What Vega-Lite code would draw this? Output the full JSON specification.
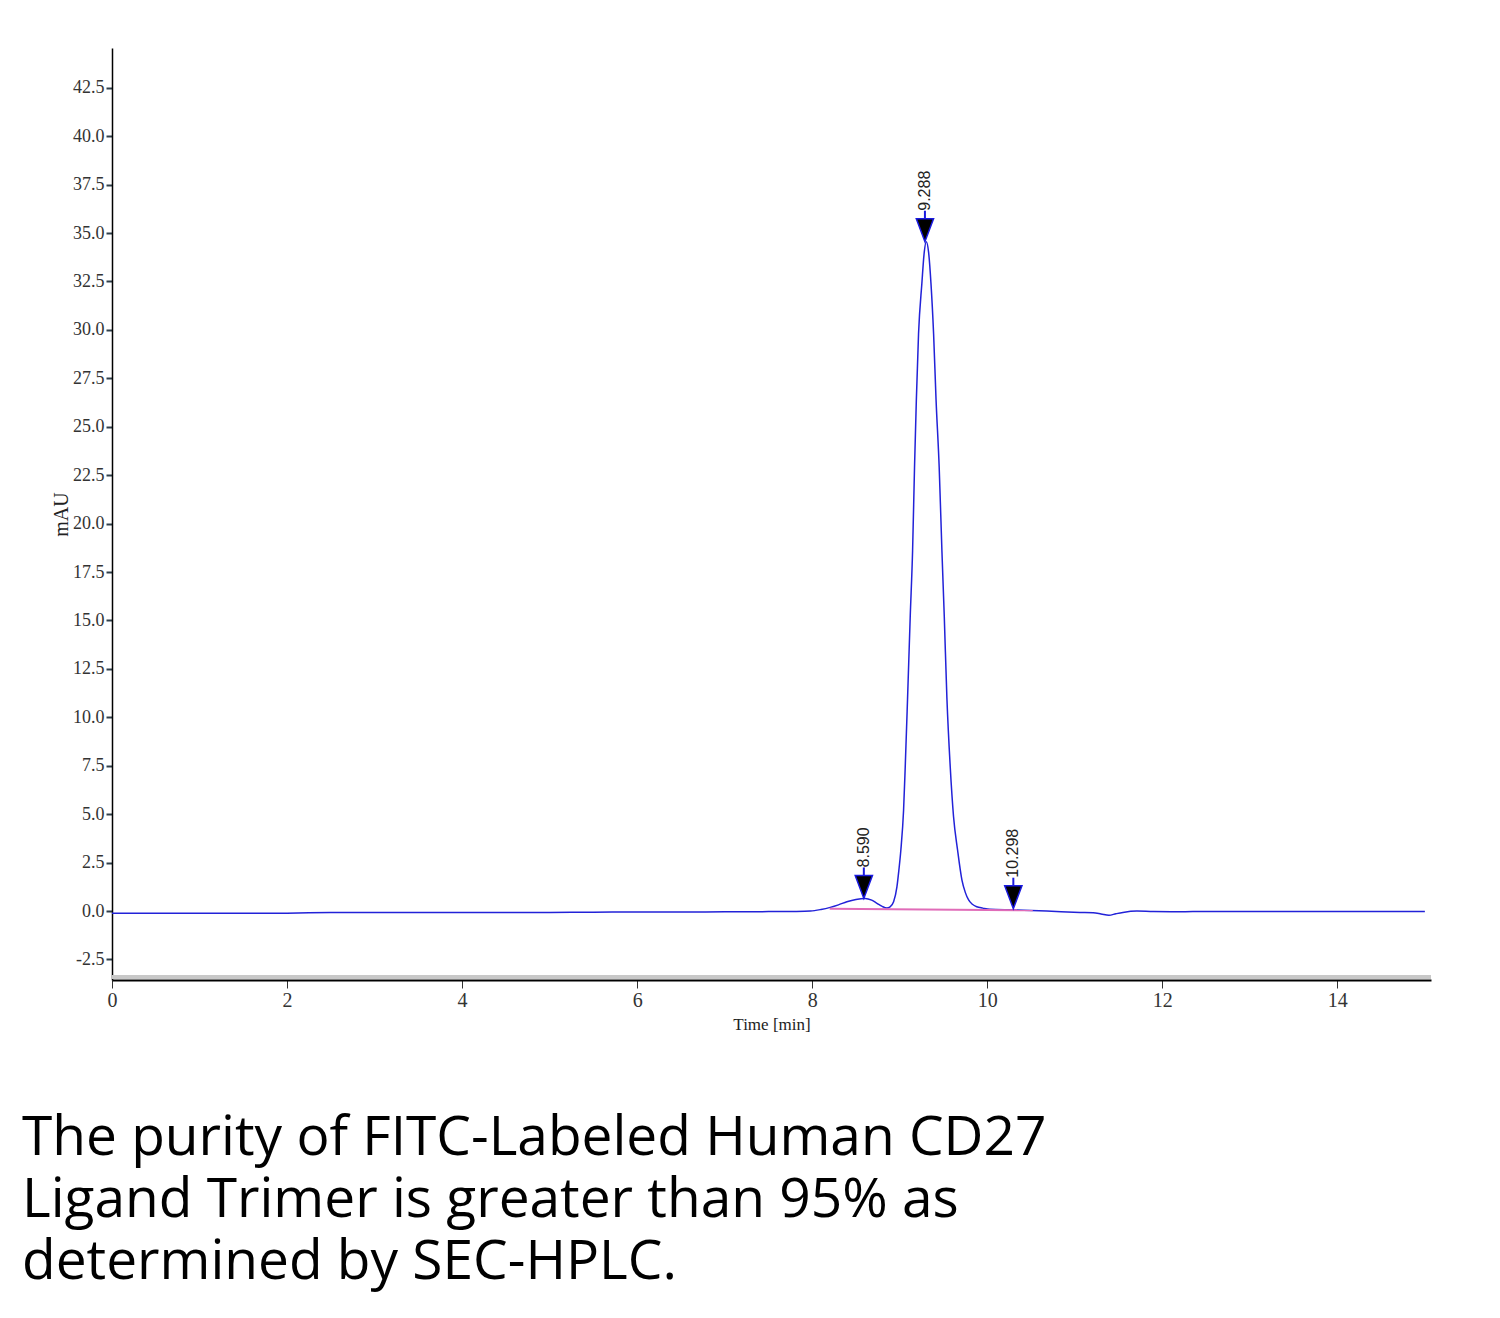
{
  "$schema": "https://vega.github.io/schema/vega-lite/v6.json",
  "width": 1319,
  "height": 932,
  "autosize": {"type": "none"},
  "padding": {"left": 112, "top": 48, "right": 69, "bottom": 338},
  "background": "white",
  "config": {"view": {"stroke": null}},
  "title": {
    "text": ["The purity of FITC-Labeled Human CD27", "Ligand Trimer is greater than 95% as", "determined by SEC-HPLC."],
    "orient": "bottom",
    "anchor": "start",
    "frame": "group",
    "font": "Open Sans",
    "fontSize": 55,
    "fontWeight": "normal",
    "color": "#000000",
    "lineHeight": 62,
    "offset": 80,
    "dx": -90
  },
  "data": {
    "values": [
      {"t": 0.0, "v": -0.12, "trace": "signal"},
      {"t": 0.5, "v": -0.12, "trace": "signal"},
      {"t": 1.0, "v": -0.11, "trace": "signal"},
      {"t": 1.5, "v": -0.12, "trace": "signal"},
      {"t": 2.0, "v": -0.11, "trace": "signal"},
      {"t": 2.5, "v": -0.08, "trace": "signal"},
      {"t": 3.0, "v": -0.07, "trace": "signal"},
      {"t": 3.5, "v": -0.08, "trace": "signal"},
      {"t": 4.0, "v": -0.07, "trace": "signal"},
      {"t": 4.5, "v": -0.08, "trace": "signal"},
      {"t": 5.0, "v": -0.07, "trace": "signal"},
      {"t": 5.5, "v": -0.06, "trace": "signal"},
      {"t": 6.0, "v": -0.05, "trace": "signal"},
      {"t": 6.5, "v": -0.05, "trace": "signal"},
      {"t": 7.0, "v": -0.04, "trace": "signal"},
      {"t": 7.5, "v": -0.03, "trace": "signal"},
      {"t": 7.8, "v": -0.02, "trace": "signal"},
      {"t": 7.98, "v": 0.0, "trace": "signal"},
      {"t": 8.1, "v": 0.08, "trace": "signal"},
      {"t": 8.206, "v": 0.19, "trace": "signal"},
      {"t": 8.3, "v": 0.32, "trace": "signal"},
      {"t": 8.396, "v": 0.48, "trace": "signal"},
      {"t": 8.5, "v": 0.6, "trace": "signal"},
      {"t": 8.606, "v": 0.65, "trace": "signal"},
      {"t": 8.68, "v": 0.56, "trace": "signal"},
      {"t": 8.74, "v": 0.4, "trace": "signal"},
      {"t": 8.8, "v": 0.24, "trace": "signal"},
      {"t": 8.853, "v": 0.16, "trace": "signal"},
      {"t": 8.89, "v": 0.22, "trace": "signal"},
      {"t": 8.93, "v": 0.48, "trace": "signal"},
      {"t": 8.968, "v": 1.25, "trace": "signal"},
      {"t": 8.99, "v": 2.1, "trace": "signal"},
      {"t": 9.013, "v": 3.15, "trace": "signal"},
      {"t": 9.044, "v": 5.2, "trace": "signal"},
      {"t": 9.063, "v": 7.45, "trace": "signal"},
      {"t": 9.089, "v": 10.9, "trace": "signal"},
      {"t": 9.12, "v": 15.2, "trace": "signal"},
      {"t": 9.147, "v": 18.6, "trace": "signal"},
      {"t": 9.169, "v": 22.9, "trace": "signal"},
      {"t": 9.19, "v": 26.4, "trace": "signal"},
      {"t": 9.215, "v": 29.8, "trace": "signal"},
      {"t": 9.253, "v": 32.4, "trace": "signal"},
      {"t": 9.28, "v": 34.0, "trace": "signal"},
      {"t": 9.303, "v": 34.55, "trace": "signal"},
      {"t": 9.33, "v": 34.0, "trace": "signal"},
      {"t": 9.357, "v": 32.4, "trace": "signal"},
      {"t": 9.387, "v": 29.8, "trace": "signal"},
      {"t": 9.415, "v": 26.4, "trace": "signal"},
      {"t": 9.451, "v": 22.9, "trace": "signal"},
      {"t": 9.482, "v": 18.6, "trace": "signal"},
      {"t": 9.509, "v": 15.2, "trace": "signal"},
      {"t": 9.539, "v": 11.0, "trace": "signal"},
      {"t": 9.577, "v": 7.45, "trace": "signal"},
      {"t": 9.615, "v": 4.87, "trace": "signal"},
      {"t": 9.661, "v": 3.15, "trace": "signal"},
      {"t": 9.711, "v": 1.6, "trace": "signal"},
      {"t": 9.75, "v": 0.95, "trace": "signal"},
      {"t": 9.787, "v": 0.57, "trace": "signal"},
      {"t": 9.83, "v": 0.35, "trace": "signal"},
      {"t": 9.88, "v": 0.22, "trace": "signal"},
      {"t": 9.95, "v": 0.15, "trace": "signal"},
      {"t": 10.03, "v": 0.09, "trace": "signal"},
      {"t": 10.3, "v": 0.06, "trace": "signal"},
      {"t": 10.68, "v": 0.0, "trace": "signal"},
      {"t": 11.06, "v": -0.07, "trace": "signal"},
      {"t": 11.21, "v": -0.09, "trace": "signal"},
      {"t": 11.3, "v": -0.15, "trace": "signal"},
      {"t": 11.39, "v": -0.22, "trace": "signal"},
      {"t": 11.47, "v": -0.14, "trace": "signal"},
      {"t": 11.55, "v": -0.07, "trace": "signal"},
      {"t": 11.71, "v": 0.0, "trace": "signal"},
      {"t": 11.9, "v": -0.03, "trace": "signal"},
      {"t": 12.2, "v": -0.04, "trace": "signal"},
      {"t": 12.5, "v": -0.02, "trace": "signal"},
      {"t": 13.0, "v": -0.03, "trace": "signal"},
      {"t": 13.5, "v": -0.02, "trace": "signal"},
      {"t": 14.0, "v": -0.03, "trace": "signal"},
      {"t": 14.5, "v": -0.03, "trace": "signal"},
      {"t": 15.0, "v": -0.03, "trace": "signal"},
      {"t": 8.2, "v": 0.12, "trace": "baseline"},
      {"t": 10.52, "v": 0.04, "trace": "baseline"}
    ]
  },
  "encoding": {
    "x": {
      "field": "t", "type": "quantitative",
      "scale": {"domain": [0, 15.07], "nice": false, "zero": false},
      "axis": {
        "title": "Time [min]",
        "values": [0, 2, 4, 6, 8, 10, 12, 14],
        "format": "d",
        "grid": false,
        "labelFont": "Liberation Serif",
        "labelFontSize": 20,
        "labelColor": "#333333",
        "labelPadding": 2,
        "labelFlush": false,
        "tickSize": 8,
        "tickWidth": 1,
        "tickColor": "#333333",
        "domainColor": "#000000",
        "domainWidth": 2,
        "titleFont": "Liberation Serif",
        "titleFontSize": 17,
        "titleFontWeight": "normal",
        "titleColor": "#222222",
        "titlePadding": 6
      }
    },
    "y": {
      "field": "v", "type": "quantitative",
      "scale": {"domain": [-3.56, 44.55], "nice": false, "zero": false},
      "axis": {
        "title": "mAU",
        "values": [-2.5, 0, 2.5, 5, 7.5, 10, 12.5, 15, 17.5, 20, 22.5, 25, 27.5, 30, 32.5, 35, 37.5, 40, 42.5],
        "labelExpr": "datum.value < 0 ? '-' + format(-datum.value, '.1f') : format(datum.value, '.1f')",
        "grid": false,
        "labelFont": "Liberation Serif",
        "labelFontSize": 18,
        "labelColor": "#333333",
        "labelPadding": 2,
        "labelFlush": false,
        "tickSize": 6,
        "tickWidth": 2,
        "tickColor": "#2f3f4a",
        "domainColor": "#000000",
        "domainWidth": 1.5,
        "titleFont": "Liberation Serif",
        "titleFontSize": 20,
        "titleFontWeight": "normal",
        "titleColor": "#222222",
        "titlePadding": 1
      }
    }
  },
  "layer": [
    {
      "mark": {"type": "rule", "color": "#c8c8c8", "strokeWidth": 3},
      "encoding": {"x": null, "y": {"datum": -3.4, "type": "quantitative"}}
    },
    {
      "transform": [{"filter": "datum.trace === 'signal'"}],
      "mark": {"type": "line", "strokeWidth": 1.5, "interpolate": "monotone", "color": "#2222d8"},
      "encoding": {}
    },
    {
      "transform": [{"filter": "datum.trace === 'baseline'"}],
      "mark": {"type": "line", "strokeWidth": 2, "color": "#e06cb8"},
      "encoding": {}
    },
    {
      "data": {"values": [
        {"rt": 8.59, "label": "8.590", "apex": 0.65},
        {"rt": 9.288, "label": "9.288", "apex": 34.55},
        {"rt": 10.298, "label": "10.298", "apex": 0.12}
      ]},
      "layer": [
        {
          "mark": {"type": "rule", "color": "#1a1ae0", "strokeWidth": 2, "yOffset": -22, "y2Offset": -31},
          "encoding": {
            "x": {"field": "rt", "type": "quantitative"},
            "y": {"field": "apex", "type": "quantitative"},
            "y2": {"field": "apex"}
          }
        },
        {
          "mark": {"type": "point", "shape": "M-0.75,-1L0.75,-1L0,1Z", "size": 529, "filled": true, "fill": "#000000", "stroke": "#1a1ae0", "strokeWidth": 1.5, "opacity": 1, "yOffset": -11.5},
          "encoding": {
            "x": {"field": "rt", "type": "quantitative"},
            "y": {"field": "apex", "type": "quantitative"}
          }
        },
        {
          "mark": {"type": "text", "angle": 270, "align": "left", "baseline": "middle", "font": "Liberation Sans", "fontSize": 16, "color": "#222222", "yOffset": -31},
          "encoding": {
            "x": {"field": "rt", "type": "quantitative"},
            "y": {"field": "apex", "type": "quantitative"},
            "text": {"field": "label"}
          }
        }
      ]
    }
  ]
}
